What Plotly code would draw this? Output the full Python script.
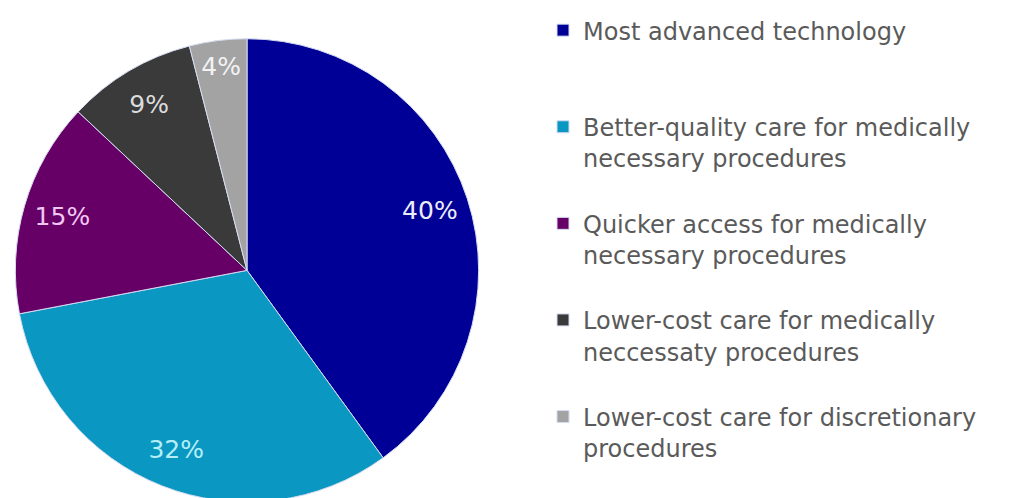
import plotly.graph_objects as go

categories = [
    "Most advanced technology",
    "Better-quality care for medically<br>necessary procedures",
    "Quicker access for medically<br>necessary procedures",
    "Lower-cost care for medically<br>neccessaty procedures",
    "Lower-cost care for discretionary<br>procedures",
]
shares = [40, 32, 15, 9, 4]
slice_colors = ["#000096", "#0a98c2", "#660066", "#3a3a3a", "#a3a3a3"]
label_colors = ["#ececf6", "#b6eef8", "#f2c6f2", "#dcdcdc", "#f2f2f2"]

# pad entries so each legend item occupies three lines (as in the reference spacing)
legend_labels = [c + "<br> " * (3 - 1 - c.count("<br>")) for c in categories]

W, H = 1034, 498
OFF = 8  # default page body margin
cx, cy, r = 247 - OFF, 268 - OFF, 234

domain = dict(x=[(cx - r) / W, (cx + r) / W], y=[(H - cy - r) / H, (H - cy + r) / H])

fig = go.Figure()
# full pie with slices and legend
fig.add_trace(
    go.Pie(
        labels=legend_labels,
        values=shares,
        sort=False,
        direction="clockwise",
        rotation=0,
        marker=dict(colors=slice_colors, line=dict(color="#d6dcf2", width=1)),
        textinfo="none",
        domain=domain,
        hoverinfo="label+percent",
    )
)
# transparent ring carrying the percentage labels near the rim
fig.add_trace(
    go.Pie(
        labels=legend_labels,
        values=shares,
        sort=False,
        direction="clockwise",
        rotation=0,
        hole=0.66,
        marker=dict(colors=["rgba(0,0,0,0)"] * len(shares), line=dict(width=0)),
        texttemplate="%{percent:.0%}",
        textposition="inside",
        insidetextorientation="horizontal",
        textfont=dict(family="DejaVu Sans", size=25, color=label_colors),
        domain=domain,
        showlegend=False,
        hoverinfo="skip",
    )
)

fig.update_layout(
    width=W,
    height=H,
    margin=dict(l=0, r=0, t=0, b=0),
    paper_bgcolor="white",
    plot_bgcolor="white",
    showlegend=True,
    legend=dict(
        x=535 / W,
        xanchor="left",
        y=1 + 5 / H,
        yanchor="top",
        valign="top",
        maxheight=1,
        font=dict(family="DejaVu Sans", size=24, color="#5a5a5a"),
        bgcolor="rgba(0,0,0,0)",
    ),
    uniformtext=dict(minsize=25, mode="show"),
)

fig.write_html("out.html")
